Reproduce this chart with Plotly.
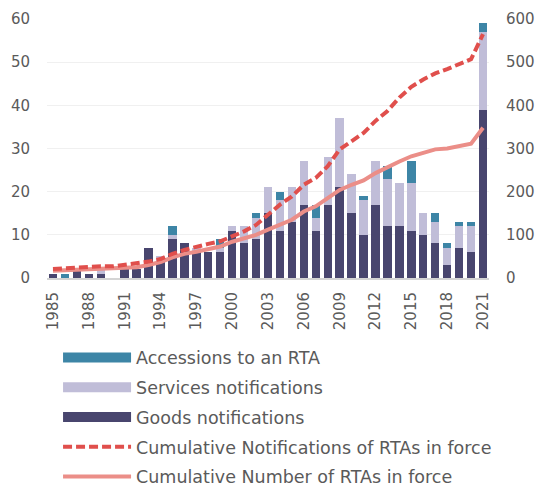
import plotly.graph_objects as go

# ---------------- Data ----------------
YEARS = list(range(1985, 2022))

GOODS = [1, 0, 2, 1, 1, 0, 2, 2, 7, 4, 9, 8, 6, 6, 6, 11, 8, 9, 15, 11,
         13, 17, 11, 17, 21, 15, 10, 17, 12, 12, 11, 10, 8, 3, 7, 6, 39]
SERVICES = [0, 0, 0, 0, 1, 0, 0, 0, 0, 1, 1, 0, 1, 0, 1, 1, 4, 5, 6, 7,
            8, 10, 3, 11, 16, 9, 8, 10, 11, 10, 11, 5, 5, 4, 5, 6, 18]
ACCESSIONS = [0, 1, 0, 0, 0, 0, 0, 0, 0, 0, 2, 0, 0, 0, 2, 0, 0, 1, 0, 2,
              0, 0, 3, 0, 0, 0, 1, 0, 3, 0, 5, 0, 2, 1, 1, 1, 2]

CUM_NOTIFICATIONS = [21, 23, 25, 26, 27, 27, 30, 33, 38, 44, 56, 65, 73, 79, 85, 96, 108,
                     123, 147, 170, 189, 216, 232, 259, 298, 318, 336, 364, 387, 418,
                     443, 460, 474, 484, 495, 507, 565]
CUM_IN_FORCE = [17, 18, 19, 20, 21, 21, 23, 25, 30, 37, 48, 56, 61, 67, 73, 84, 92,
                100, 112, 123, 135, 154, 166, 185, 204, 216, 226, 243, 257, 270,
                282, 290, 298, 300, 305, 311, 348]

TICK_YEARS = YEARS[::3]

COLORS = {
    "goods": "#48456e",
    "services": "#c0bdd8",
    "accessions": "#3d85a6",
    "cum_notif": "#e04f4c",
    "cum_force": "#eb8e88",
}
FONT = "DejaVu Sans"
TEXT_COLOR = "#5a5a5a"

# ---------------- Figure ----------------
fig = go.Figure()

# stacked bars (legend entries are drawn separately as wide swatches)
for values, key in [(GOODS, "goods"), (SERVICES, "services"), (ACCESSIONS, "accessions")]:
    fig.add_trace(go.Bar(x=YEARS, y=values, showlegend=False,
                         marker=dict(color=COLORS[key], line=dict(width=0))))

fig.add_trace(go.Scatter(x=YEARS, y=CUM_IN_FORCE, name="Cumulative Number of RTAs in force",
                         mode="lines", yaxis="y2",
                         line=dict(color=COLORS["cum_force"], width=4),
                         legendrank=5, legendgroup="e"))
fig.add_trace(go.Scatter(x=YEARS, y=CUM_NOTIFICATIONS,
                         name="Cumulative Notifications of RTAs in force",
                         mode="lines", yaxis="y2",
                         line=dict(color=COLORS["cum_notif"], width=4, dash="9px,4px"),
                         legendrank=4, legendgroup="d"))

# legend-only swatches for the bar series
for name, key, rank, grp in [("Accessions to an RTA", "accessions", 1, "a"),
                             ("Services notifications", "services", 2, "b"),
                             ("Goods notifications", "goods", 3, "c")]:
    fig.add_trace(go.Scatter(x=[None], y=[None], name=name, mode="lines",
                             line=dict(color=COLORS[key], width=13),
                             legendrank=rank, legendgroup=grp))

fig.update_layout(
    width=538, height=486,
    barmode="stack", bargap=0.3,
    paper_bgcolor="white", plot_bgcolor="white",
    font=dict(family=FONT, size=15, color=TEXT_COLOR),
    margin=dict(l=47, r=49, t=19, b=208, autoexpand=False),
    showlegend=True,
    legend=dict(orientation="v", x=0.025, xanchor="left", y=-0.238, yanchor="top",
                traceorder="grouped", font=dict(size=17.5, color=TEXT_COLOR),
                itemwidth=68, tracegroupgap=4, bgcolor="rgba(0,0,0,0)"),
    xaxis=dict(tickmode="array", tickvals=TICK_YEARS, ticktext=[str(y) for y in TICK_YEARS],
               tickangle=-90, showgrid=False, showline=True, linecolor="#d4d4d4",
               linewidth=2, ticks="", ticklabelstandoff=6, range=[1984.5, 2021.5]),
    yaxis=dict(range=[0, 60], dtick=10, showgrid=True, gridcolor="#f0f0f0",
               zeroline=False, ticks="", ticklabelstandoff=16),
    yaxis2=dict(range=[0, 600], dtick=100, overlaying="y", side="right",
                showgrid=False, zeroline=False, ticks="", ticklabelstandoff=16),
)

# the page body has a default 8px margin; drop it so the chart sits at the corner
fig.write_html("out.html", config={"displayModeBar": False},
               post_script="document.body.style.margin='0';")
